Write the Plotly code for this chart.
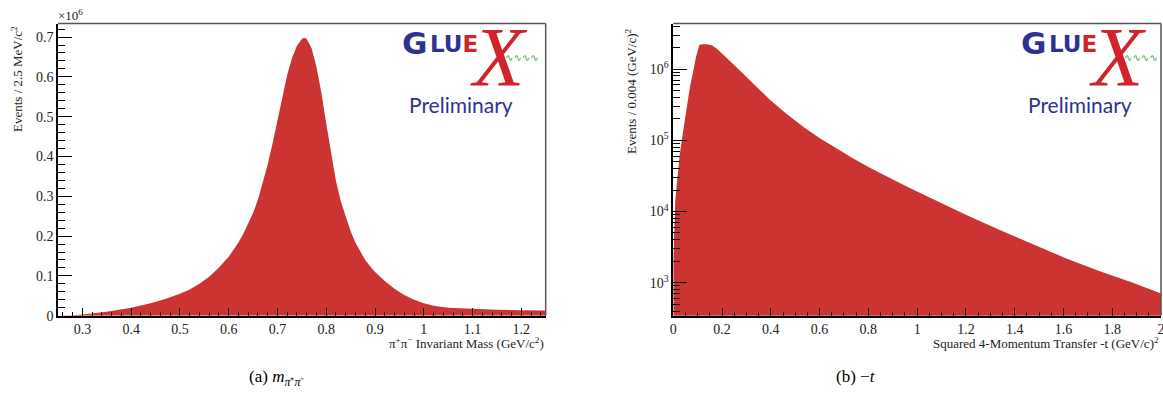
import plotly.graph_objects as go

# ---------------- data ----------------
# (a) pi+pi- invariant mass, counts per 2.5 MeV/c^2 in units of 10^6
mass_gev = [0.25, 0.27, 0.28, 0.30, 0.32, 0.35, 0.40, 0.44, 0.47, 0.50, 0.52, 0.54,
            0.56, 0.58, 0.60, 0.61, 0.62, 0.63, 0.64, 0.65, 0.66, 0.67, 0.68, 0.69,
            0.70, 0.71, 0.72, 0.73, 0.74, 0.75, 0.755, 0.76, 0.77, 0.78, 0.79, 0.80,
            0.81, 0.82, 0.83, 0.84, 0.85, 0.86, 0.87, 0.88, 0.89, 0.90, 0.92, 0.94, 0.96,
            0.98, 1.00, 1.02, 1.05, 1.10, 1.15, 1.20, 1.25]
mass_counts_1e6 = [0.0, 0.0, 0.001, 0.003, 0.006, 0.010, 0.020, 0.031, 0.042, 0.055, 0.066, 0.080,
                   0.098, 0.121, 0.148, 0.165, 0.184, 0.206, 0.230, 0.258, 0.292, 0.333, 0.380, 0.433,
                   0.492, 0.552, 0.605, 0.648, 0.678, 0.695, 0.698, 0.695, 0.672, 0.625, 0.560, 0.483,
                   0.405, 0.338, 0.287, 0.247, 0.212, 0.183, 0.160, 0.140, 0.124, 0.110, 0.087, 0.068, 0.052,
                   0.040, 0.031, 0.025, 0.020, 0.017, 0.015, 0.014, 0.013]

# (b) -t, counts per 0.004 (GeV/c)^2
t_gev2 = [0.0, 0.004, 0.008, 0.016, 0.027, 0.041, 0.055, 0.068, 0.082, 0.093, 0.107,
          0.12, 0.14, 0.16, 0.18, 0.20, 0.23, 0.26, 0.29, 0.328, 0.396, 0.465, 0.533,
          0.601, 0.67, 0.738, 0.806, 0.875, 0.943, 1.004, 1.066, 1.202, 1.339, 1.475,
          1.612, 1.749, 1.885, 1.995, 2.0]
t_counts = [2.0e3, 8.0e3, 1.4e4, 2.75e4, 6.5e4, 1.38e5, 2.9e5, 5.5e5, 9.5e5, 1.48e6, 2.19e6,
            2.24e6, 2.24e6, 2.14e6, 1.91e6, 1.66e6, 1.32e6, 1.05e6, 8.3e5, 6.17e5, 3.72e5, 2.34e5, 1.55e5,
            1.07e5, 7.6e4, 5.56e4, 4.12e4, 3.09e4, 2.37e4, 1.88e4, 1.48e4, 8.9e3, 5.5e3, 3.47e3,
            2.19e3, 1.45e3, 1.0e3, 7.2e2, 7.1e2]

log_major = [1e3, 1e4, 1e5, 1e6]
log_major_text = ["10<sup>3</sup>", "10<sup>4</sup>", "10<sup>5</sup>", "10<sup>6</sup>"]
log_minor = [k * 10 ** e for e in range(2, 7) for k in range(2, 10)]

# ---------------- figure ----------------
W, H = 1163, 394
FILL = "#cc3333"
BLUE = "#2e3192"
RED = "#d2232a"
SERIF = "Liberation Serif"


def px(x):
    return x / W


def py(y):
    return 1 - y / H


fig = go.Figure()
fig.add_trace(go.Scatter(x=mass_gev, y=mass_counts_1e6, mode="lines", line=dict(width=0, color=FILL),
                         fill="tozeroy", fillcolor=FILL, xaxis="x", yaxis="y", hoverinfo="skip"))
fig.add_trace(go.Scatter(x=t_gev2, y=t_counts, mode="lines", line=dict(width=0, color=FILL),
                         fill="tozeroy", fillcolor=FILL, xaxis="x2", yaxis="y2", hoverinfo="skip"))

ydom = [py(315.7), py(23.5)]
common = dict(showgrid=False, zeroline=False, showline=True, linecolor="black", linewidth=1.5,
              ticks="inside", tickcolor="black", tickwidth=1.3, automargin=False,
              tickfont=dict(family=SERIF, size=14, color="#222"))

fig.update_layout(
    width=W, height=H, autosize=False, margin=dict(l=0, r=0, t=0, b=0, pad=0),
    paper_bgcolor="white", plot_bgcolor="white", showlegend=False,
    xaxis=dict(domain=[px(58), px(545.7)], range=[0.25, 1.25], anchor="y",
               dtick=0.1, tick0=0, ticklen=8,
               minor=dict(ticks="inside", dtick=0.02, tick0=0, ticklen=4, tickcolor="black", tickwidth=1),
               **common),
    yaxis=dict(domain=ydom, range=[0, 0.734], anchor="x", dtick=0.1, tick0=0, ticklen=14,
               minor=dict(ticks="inside", dtick=0.02, tick0=0, ticklen=7, tickcolor="black", tickwidth=1),
               **common),
    xaxis2=dict(domain=[px(673.3), px(1161)], range=[0, 2.0002], anchor="y2",
                dtick=0.2, tick0=0, ticklen=8, ticklabeloverflow="allow",
                minor=dict(ticks="inside", dtick=0.05, tick0=0, ticklen=4, tickcolor="black", tickwidth=1),
                **common),
    yaxis2=dict(domain=ydom, type="log", range=[2.537, 6.64], anchor="x2",
                tickmode="array", tickvals=log_major, ticktext=log_major_text, ticklen=14,
                minor=dict(ticks="inside", tickmode="array", tickvals=log_minor, ticklen=7,
                           tickcolor="black", tickwidth=1),
                **common),
)

# top / right frame lines (grey, as in ROOT)
for xr, yr in (("x domain", "y domain"), ("x2 domain", "y2 domain")):
    fig.add_shape(type="line", xref=xr, yref=yr, x0=0, x1=1, y0=1, y1=1, line=dict(color="#555", width=1.5))
    fig.add_shape(type="line", xref=xr, yref=yr, x0=1, x1=1, y0=0, y1=1, line=dict(color="#555", width=1.5))

ann = []


def text(x, y, s, size=13, xanchor="center", yanchor="middle", color="#222", family=SERIF, angle=0):
    ann.append(dict(x=px(x), y=py(y), xref="paper", yref="paper", text=s, showarrow=False,
                    xanchor=xanchor, yanchor=yanchor, textangle=angle,
                    font=dict(family=family, size=size, color=color)))


# axis titles
text(17, 24, "Events / 2.5 MeV/c<sup>2</sup>", size=13, yanchor="top", angle=-90)
text(631, 26, "Events / 0.004 (GeV/c)<sup>2</sup>", size=13, yanchor="top", angle=-90)
text(546, 343, "π<sup>+</sup>π<sup>−</sup> Invariant Mass (GeV/c<sup>2</sup>)", size=13, xanchor="right")
text(1161, 343, "Squared 4-Momentum Transfer -t (GeV/c)<sup>2</sup>", size=13, xanchor="right")
text(56, 15, "×10<sup>6</sup>", size=13, xanchor="left")

# captions
text(276, 378, "(a) <i>m</i><sub><i>π</i>⁺<i>π</i>⁻</sub>", size=17, color="black")
text(856, 376, "(b) −<i>t</i>", size=17, color="black")


# GlueX logo (text re-creation)
def logo(dx):
    text(429 + dx, 43, "<b>G</b>", size=31, color=BLUE, family="DejaVu Sans", xanchor="right")
    text(428 + dx, 44, "<b><span style='color:%s'>LU</span><span style='color:%s'>E</span></b>" % (BLUE, RED),
         size=23, color=BLUE, family="DejaVu Sans", xanchor="left")
    text(499 + dx, 57, "<i>X</i>", size=84, color=RED, family=SERIF)
    text(522 + dx, 57, "∿∿∿∿", size=10, color="#3aa935", family="DejaVu Sans")
    text(461 + dx, 105, "Preliminary", size=21, color=BLUE, family="Lato")


logo(0)
logo(619)

fig.update_layout(annotations=ann)
fig.write_html("out.html", config={"displayModeBar": False, "responsive": False},
               post_script="document.body.style.margin='0';document.body.style.overflow='hidden';")
